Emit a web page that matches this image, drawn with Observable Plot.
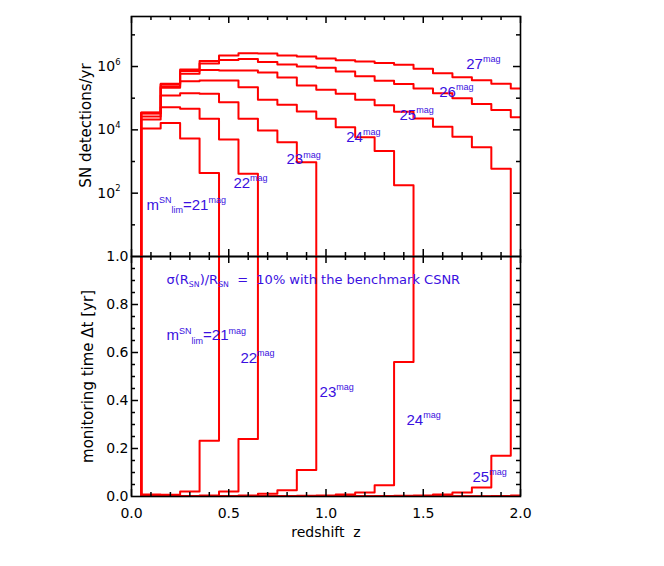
<!DOCTYPE html>
<html>
<head>
<meta charset="utf-8">
<script src="https://cdn.jsdelivr.net/npm/d3@7"></script>
<script src="https://cdn.jsdelivr.net/npm/@observablehq/plot@0.6"></script>
<style>
html, body { margin: 0; padding: 0; background: #fff; }
#chart { position: relative; width: 664px; height: 566px; }
#chart svg { position: absolute; left: 0; overflow: visible; }
#chart text { white-space: pre; }
</style>
</head>
<body>
<div id="chart"></div>
<script>
// ---------- data ----------
const zBins = [0.1,0.2,0.3,0.4,0.5,0.6,0.7,0.8,0.9,1.0,1.1,1.2,1.3,1.4,1.5,1.6,1.7,1.8,1.9,2.0];
const mags = [21, 22, 23, 24, 25, 26, 27];

// SN detections per year (0 = none)
const det21 = [1.10e4,1.64e4,5.3e3,434,0,0,0,0,0,0,0,0,0,0,0,0,0,0,0,0];
const det22 = [2.12e4,5.19e4,4.62e4,2.23e4,4.96e3,409,0,0,0,0,0,0,0,0,0,0,0,0,0,0];
const det23 = [2.64e4,1.21e5,1.43e5,1.37e5,7.46e4,2.23e4,9.53e3,4.07e3,951,0,0,0,0,0,0,0,0,0,0,0];
const det24 = [3.28e4,2.12e5,3.44e5,3.61e5,3.61e5,2.22e5,8.89e4,6.18e4,3.79e4,2.23e4,1.21e4,5.86e3,2.15e3,179,0,0,0,0,0,0];
const det25 = [3.35e4,2.33e5,5.89e5,7.75e5,7.48e5,7.48e5,6.46e5,4.5e5,2.51e5,1.84e5,1.37e5,8.89e4,6.0e4,3.72e4,2.28e4,1.25e4,6.03e3,2.83e3,589,0];
const det26 = [3.45e4,2.70e5,7.21e5,1.24e6,1.60e6,1.73e6,1.39e6,1.16e6,1.0e6,9.1e5,6.95e5,4.94e5,3.53e5,2.80e5,2.02e5,1.43e5,9.98e4,6.55e4,4.23e4,2.51e4];
const det27 = [3.53e4,2.84e5,8.04e5,1.49e6,2.23e6,2.63e6,2.57e6,2.23e6,2.07e6,1.79e6,1.58e6,1.44e6,1.29e6,1.14e6,8.46e5,6.14e5,4.59e5,3.69e5,2.84e5,2.02e5];

// monitoring time [yr] (null = no detections, off the chart)
const dt21 = [0.008,0.007,0.021,0.232,null,null,null,null,null,null,null,null,null,null,null,null,null,null,null,null];
const dt22 = [0.005,0.002,0.002,0.0045,0.021,0.24,null,null,null,null,null,null,null,null,null,null,null,null,null,null];
const dt23 = [0.004,0.0008,0.0007,0.0007,0.0013,0.0045,0.011,0.026,0.11,null,null,null,null,null,null,null,null,null,null,null];
const dt24 = [0.003,0.0005,0.0003,0.0003,0.0003,0.0005,0.0011,0.0016,0.0027,0.0045,0.008,0.017,0.047,0.56,null,null,null,null,null,null];
const dt25 = [0.003,0.0004,0.0002,0.00013,0.00013,0.00013,0.00015,0.0002,0.0004,0.0005,0.0007,0.0011,0.0017,0.0027,0.0044,0.008,0.017,0.037,0.17,null];
const dt26 = [0.003,0.0004,0.00014,0.00008,0.00006,0.00006,0.00007,0.00009,0.0001,0.00011,0.00014,0.0002,0.0003,0.00036,0.0005,0.0007,0.001,0.0015,0.0024,0.004];
const dt27 = [0.003,0.00035,0.00012,0.00007,0.00004,0.00004,0.00004,0.00004,0.00005,0.00006,0.00006,0.00007,0.00008,0.00009,0.00012,0.00016,0.0002,0.00027,0.00035,0.0005];

// tick values / labels
const xTickLabels = [0, 0.5, 1.0, 1.5, 2.0];
const yTopTickLabels = [1e2, 1e4, 1e6];
const yTopMinorTicks = [1e1, 1e3, 1e5, 1e7];
const yBotTickLabels = [0, 0.2, 0.4, 0.6, 0.8, 1.0];

// texts
const topLabelText = ["m^{SN}_{lim}=21^{mag}", "22^{mag}", "23^{mag}", "24^{mag}", "25^{mag}", "26^{mag}", "27^{mag}"];
const botLabelText = ["σ(R_{SN})/R_{SN}  =  10% with the benchmark CSNR", "m^{SN}_{lim}=21^{mag}", "22^{mag}", "23^{mag}", "24^{mag}", "25^{mag}"];

// ---------- build ----------
const detSeries = [det21, det22, det23, det24, det25, det26, det27];
const dtSeries = [dt21, dt22, dt23, dt24, dt25, dt26, dt27];
const halfBin = 0.05;

function steps(values, mag, isEmpty, emptyVal) {
  const pts = [{z: -halfBin, v: emptyVal, mag}, {z: zBins[0] - halfBin, v: emptyVal, mag}];
  zBins.forEach((c, i) => {
    const v = isEmpty(values[i]) ? emptyVal : values[i];
    pts.push({z: c - halfBin, v, mag}, {z: c + halfBin, v, mag});
  });
  return pts;
}
const topData = detSeries.flatMap((s, k) => steps(s, mags[k], v => !(v > 0), 0.3));
const botData = dtSeries.flatMap((s, k) => steps(s, mags[k], v => v == null, 1.5));

const topAnn = [
  {t: topLabelText[0], z: 0.077, v: 30.5},
  {t: topLabelText[1], z: 0.524, v: 151},
  {t: topLabelText[2], z: 0.797, v: 805},
  {t: topLabelText[3], z: 1.104, v: 4070},
  {t: topLabelText[4], z: 1.378, v: 2.12e4},
  {t: topLabelText[5], z: 1.582, v: 1.09e5},
  {t: topLabelText[6], z: 1.721, v: 8.64e5}
];
const botAnn = [
  {t: botLabelText[1], z: 0.18, v: 0.651},
  {t: botLabelText[2], z: 0.56, v: 0.556},
  {t: botLabelText[3], z: 0.967, v: 0.414},
  {t: botLabelText[4], z: 1.414, v: 0.297},
  {t: botLabelText[5], z: 1.753, v: 0.06}
];

const red = "#ff0000", blue = "#3a10e0";
const PW = 389, PH = 240, MAJ = 7, MIN = 4;
const xMinor = d3.range(1, 20).map(i => i / 10).filter(d => Math.abs(d * 2 - Math.round(d * 2)) > 1e-6);
const yBotMajor = [0.2, 0.4, 0.6, 0.8];
const yBotMinor = d3.range(1, 20).map(i => i * 0.05).filter(d => Math.abs(d * 5 - Math.round(d * 5)) > 1e-6);
const tickStyle = {stroke: "black", strokeWidth: 1.5};
const baseStyle = {fontFamily: "DejaVu Sans", fontSize: "14px", overflow: "visible", background: "none", color: "black"};

function xTicks() {
  return [
    Plot.ruleX(xTickLabels, {x: d => d, insetBottom: PH - MAJ, ...tickStyle}),
    Plot.ruleX(xTickLabels, {x: d => d, insetTop: PH - MAJ, ...tickStyle}),
    Plot.ruleX(xMinor, {x: d => d, insetBottom: PH - MIN, ...tickStyle}),
    Plot.ruleX(xMinor, {x: d => d, insetTop: PH - MIN, ...tickStyle})
  ];
}

const plotTop = Plot.plot({
  width: 664, height: 256,
  marginTop: 16, marginBottom: 0, marginLeft: 131, marginRight: 144,
  x: {domain: [0, 2], axis: null},
  y: {type: "log", domain: [1, 3.8e7], axis: null},
  style: baseStyle,
  marks: [
    Plot.line(topData, {x: "z", y: "v", z: "mag", stroke: red, strokeWidth: 2, clip: true}),
    ...xTicks(),
    Plot.ruleY(yTopTickLabels, {y: d => d, insetRight: PW - MAJ, ...tickStyle}),
    Plot.ruleY(yTopTickLabels, {y: d => d, insetLeft: PW - MAJ, ...tickStyle}),
    Plot.ruleY(yTopMinorTicks, {y: d => d, insetRight: PW - MIN, ...tickStyle}),
    Plot.ruleY(yTopMinorTicks, {y: d => d, insetLeft: PW - MIN, ...tickStyle}),
    Plot.frame({stroke: "black", strokeWidth: 1.6}),
    Plot.axisY({ticks: yTopTickLabels, tickSize: 0, tickPadding: 11, fontSize: 14,
      tickFormat: d => `10^{${Math.round(Math.log10(d))}}`, label: null}),
    Plot.text(["SN detections/yr"], {frameAnchor: "left", textAnchor: "middle", rotate: -90, dx: -45, dy: -11, fontSize: 15}),
    Plot.text(topAnn, {x: "z", y: "v", text: "t", textAnchor: "start", lineAnchor: "bottom",
      fill: blue, fontSize: 15, fontFamily: "Liberation Sans"})
  ]
});

const plotBot = Plot.plot({
  width: 664, height: 310,
  marginTop: 0, marginBottom: 70, marginLeft: 131, marginRight: 144,
  x: {domain: [0, 2], axis: null},
  y: {domain: [0, 1], axis: null},
  style: baseStyle,
  marks: [
    Plot.line(botData, {x: "z", y: "v", z: "mag", stroke: red, strokeWidth: 2, clip: true}),
    ...xTicks(),
    Plot.ruleY(yBotMajor, {y: d => d, insetRight: PW - MAJ, ...tickStyle}),
    Plot.ruleY(yBotMajor, {y: d => d, insetLeft: PW - MAJ, ...tickStyle}),
    Plot.ruleY(yBotMinor, {y: d => d, insetRight: PW - MIN, ...tickStyle}),
    Plot.ruleY(yBotMinor, {y: d => d, insetLeft: PW - MIN, ...tickStyle}),
    Plot.frame({stroke: "black", strokeWidth: 1.6}),
    Plot.axisY({ticks: yBotTickLabels, tickSize: 0, tickPadding: 3, fontSize: 14, tickFormat: d3.format(".1f"), label: null}),
    Plot.axisX({ticks: xTickLabels, tickSize: 0, tickPadding: 12, fontSize: 14, tickFormat: d3.format(".1f"), label: null}),
    Plot.text(["monitoring time Δt [yr]"], {frameAnchor: "left", textAnchor: "middle", rotate: -90, dx: -43, fontSize: 15}),
    Plot.text(["redshift  z"], {frameAnchor: "bottom", dy: 40, fontSize: 14}),
    Plot.text([botLabelText[0]], {frameAnchor: "top-left", dx: 35, dy: 27, textAnchor: "start", lineAnchor: "bottom",
      fill: blue, fontSize: 13}),
    Plot.text(botAnn, {x: "z", y: "v", text: "t", textAnchor: "start", lineAnchor: "bottom",
      fill: blue, fontSize: 15, fontFamily: "Liberation Sans"})
  ]
});

const chart = document.getElementById("chart");
plotTop.style.top = "0px";
plotBot.style.top = "256px";
chart.appendChild(plotBot);
chart.appendChild(plotTop);

function rich(svg) {
  svg.querySelectorAll("text").forEach(t => {
    const s = t.textContent;
    if (!/[\^_]\{/.test(s)) return;
    const fs = parseFloat(getComputedStyle(t).fontSize);
    while (t.firstChild) t.removeChild(t.firstChild);
    const re = /([\^_])\{([^}]*)\}|([^\^_]+)/g;
    let m, cur = 0;
    while ((m = re.exec(s))) {
      const ts = document.createElementNS("http://www.w3.org/2000/svg", "tspan");
      let target = 0, size = fs, str = m[3];
      if (m[1]) {
        str = m[2];
        size = fs * 0.6;
        target = m[1] === "^" ? -0.45 * fs : 0.25 * fs;
      }
      ts.setAttribute("font-size", size);
      ts.setAttribute("dy", target - cur);
      cur = target;
      ts.textContent = str;
      t.appendChild(ts);
    }
  });
}
rich(plotTop);
rich(plotBot);
</script>
</body>
</html>
